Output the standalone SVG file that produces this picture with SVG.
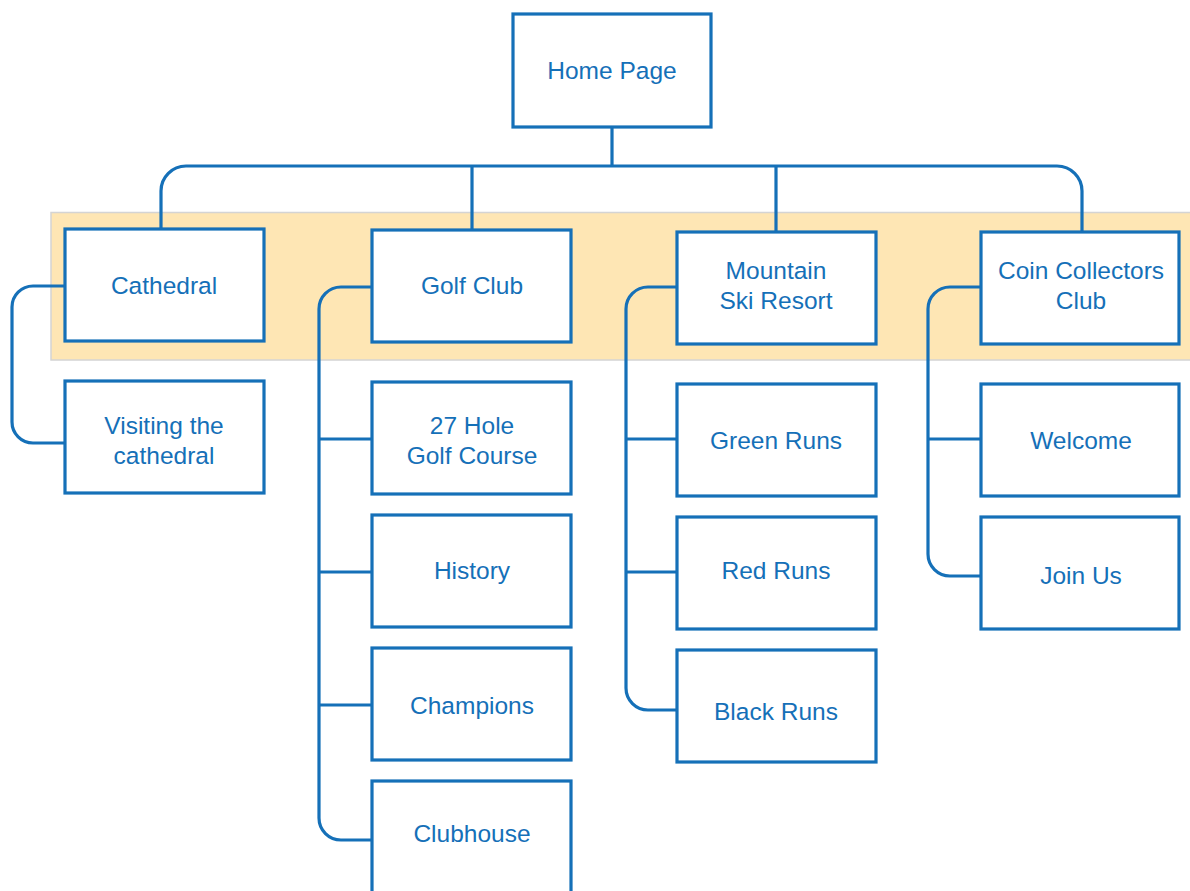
<svg xmlns="http://www.w3.org/2000/svg" width="1190" height="891" viewBox="0 0 1190 891">
<style>
.n{fill:#fff;stroke:#1570B8;stroke-width:3.2}
.t{font-family:"Liberation Sans",Arial,sans-serif;font-size:24.5px;fill:#1570B8;text-anchor:middle}
.c{fill:none;stroke:#1570B8;stroke-width:3.2}
</style>
<rect x="51" y="212.5" width="1145" height="147.5" fill="#FEE6B4" stroke="#D4D4D4" stroke-width="1.5"/>
<g id="connectors">
<path class="c" d="M612,127 V166"/>
<path class="c" d="M161,229 V191 A25,25 0 0 1 186,166 H1057 A25,25 0 0 1 1082,191 V232"/>
<path class="c" d="M472,166 V230"/>
<path class="c" d="M776,166 V232"/>
<path class="c" d="M65,286 H33 A21,21 0 0 0 12,307 V422 A21,21 0 0 0 33,443 H65"/>
<path class="c" d="M372,287 H341 A22,22 0 0 0 319,309 V818 A22,22 0 0 0 341,840 H372"/>
<path class="c" d="M319,439 H372 M319,572 H372 M319,705 H372"/>
<path class="c" d="M677,287 H648 A22,22 0 0 0 626,309 V688 A22,22 0 0 0 648,710 H677"/>
<path class="c" d="M626,439 H677 M626,572 H677"/>
<path class="c" d="M981,287 H950 A22,22 0 0 0 928,309 V554 A22,22 0 0 0 950,576 H981"/>
<path class="c" d="M928,439 H981"/>
</g>
<g id="home"><rect class="n" x="513" y="14" width="198" height="113"/><text class="t" x="612" y="79">Home Page</text></g>
<g id="cathedral"><rect class="n" x="65" y="229" width="199" height="112"/><text class="t" x="164" y="294">Cathedral</text></g>
<g id="visiting"><rect class="n" x="65" y="381" width="199" height="112"/><text class="t" x="164" y="434">Visiting the</text><text class="t" x="164" y="464">cathedral</text></g>
<g id="golf"><rect class="n" x="372" y="230" width="199" height="112"/><text class="t" x="472" y="294">Golf Club</text></g>
<g id="course"><rect class="n" x="372" y="382" width="199" height="112"/><text class="t" x="472" y="434">27 Hole</text><text class="t" x="472" y="464">Golf Course</text></g>
<g id="history"><rect class="n" x="372" y="515" width="199" height="112"/><text class="t" x="472" y="579">History</text></g>
<g id="champions"><rect class="n" x="372" y="648" width="199" height="112"/><text class="t" x="472" y="714">Champions</text></g>
<g id="clubhouse"><rect class="n" x="372" y="781" width="199" height="130"/><text class="t" x="472" y="842">Clubhouse</text></g>
<g id="mountain"><rect class="n" x="677" y="232" width="199" height="112"/><text class="t" x="776" y="279">Mountain</text><text class="t" x="776" y="309">Ski Resort</text></g>
<g id="green"><rect class="n" x="677" y="384" width="199" height="112"/><text class="t" x="776" y="449">Green Runs</text></g>
<g id="red"><rect class="n" x="677" y="517" width="199" height="112"/><text class="t" x="776" y="579">Red Runs</text></g>
<g id="black"><rect class="n" x="677" y="650" width="199" height="112"/><text class="t" x="776" y="720">Black Runs</text></g>
<g id="coin"><rect class="n" x="981" y="232" width="198" height="112"/><text class="t" x="1081" y="279">Coin Collectors</text><text class="t" x="1081" y="309">Club</text></g>
<g id="welcome"><rect class="n" x="981" y="384" width="198" height="112"/><text class="t" x="1081" y="449">Welcome</text></g>
<g id="join"><rect class="n" x="981" y="517" width="198" height="112"/><text class="t" x="1081" y="584">Join Us</text></g>
</svg>
